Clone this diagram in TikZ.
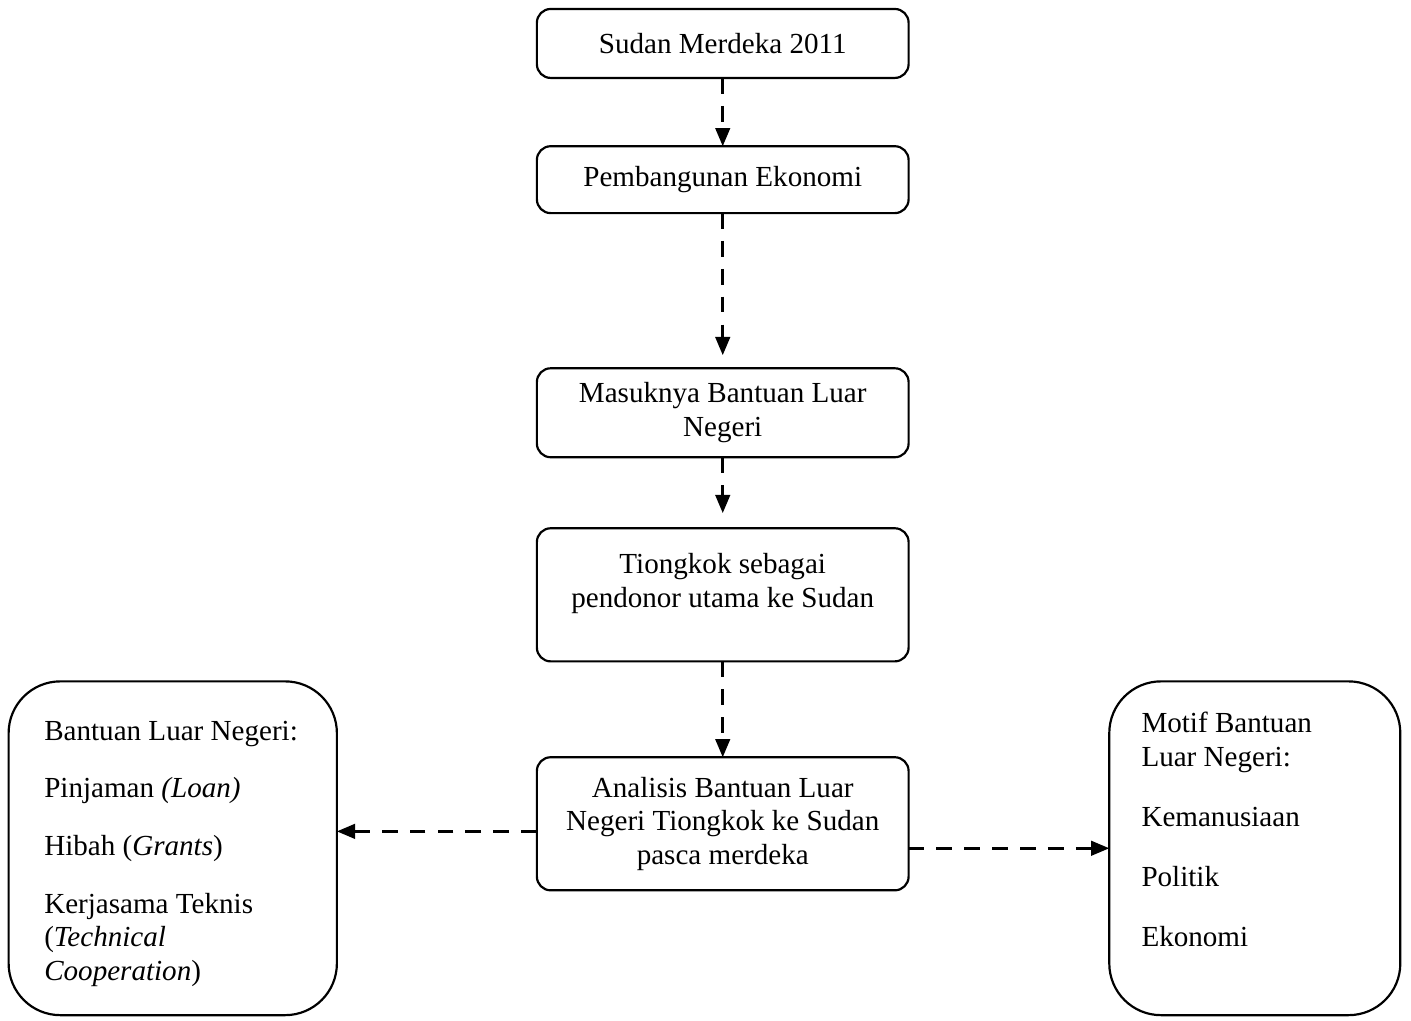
\documentclass[tikz,border=0pt]{standalone}
\usepackage{fontspec}
\setmainfont{Liberation Serif}
\usetikzlibrary{positioning,arrows.meta}

\begin{document}
\begin{tikzpicture}[
    boxnode/.style={rectangle, rounded corners=0.2cm, draw, line width=0.9pt, outer sep=0pt, minimum width=5.39cm, align=center},
    bignode/.style={rectangle, rounded corners=0.75cm, draw, line width=0.9pt, outer sep=0pt, minimum height=4.84cm},
    listnode/.style={align=left, inner sep=0pt, anchor=north west},
    flow/.style={->, line width=1.1pt, dash pattern=on 6.5pt off 5pt},
    >={Triangle[width=6pt,length=7.5pt]},
    font=\fontsize{12pt}{13.8pt}\selectfont,
    ]
\useasboundingbox (0,0) rectangle (20.46,-14.80);
%Nodes

\node[boxnode, minimum height=1.0cm]  (B1) at (10.48,-0.63) {Sudan Merdeka 2011};
\node[boxnode, minimum height=0.97cm] (B2) [below=0.99cm of B1] {Pembangunan Ekonomi};
\node[boxnode, minimum height=1.29cm] (B3) [below=2.25cm of B2] {Masuknya Bantuan Luar\\Negeri};
\node[boxnode, minimum height=1.93cm] (B4) [below=1.03cm of B3] {Tiongkok sebagai\\pendonor utama ke Sudan\\[-2pt]\mbox{}};
\node[boxnode, minimum height=1.93cm] (B5) [below=1.39cm of B4] {Analisis Bantuan Luar\\Negeri Tiongkok ke Sudan\\pasca merdeka};
\node[bignode, minimum width=4.76cm]  (BL) [left=2.9cm of B5, yshift=-0.355cm] {};
\node[bignode, minimum width=4.22cm]  (BR) [right=2.91cm of B5, yshift=-0.355cm] {};

\node[listnode] (TL) at ([xshift=0.51cm, yshift=-0.565cm]BL.north west)
    {Bantuan Luar Negeri:\\[10pt]
     Pinjaman \textit{(Loan)}\\[10pt]
     Hibah (\textit{Grants})\\[10pt]
     Kerjasama Teknis\\
     (\textit{Technical}\\
     \textit{Cooperation})};
\node[listnode] (TR) at ([xshift=0.46cm, yshift=-0.44cm]BR.north west)
    {Motif Bantuan\\
     Luar Negeri:\\[11pt]
     Kemanusiaan\\[11pt]
     Politik\\[11pt]
     Ekonomi};

%Lines
\path
(B1) edge[flow] (B2)
(B2) edge[flow, shorten >=0.19cm] (B3)
(B3) edge[flow, shorten >=0.22cm] (B4)
(B4) edge[flow] (B5);
\coordinate (P) at ([yshift=-0.11cm]B5.west);
\draw[flow] (P) -- (P -| BL.east);
\draw[flow] (B5.east |- BR.west) -- (BR.west);
\end{tikzpicture}
\end{document}
